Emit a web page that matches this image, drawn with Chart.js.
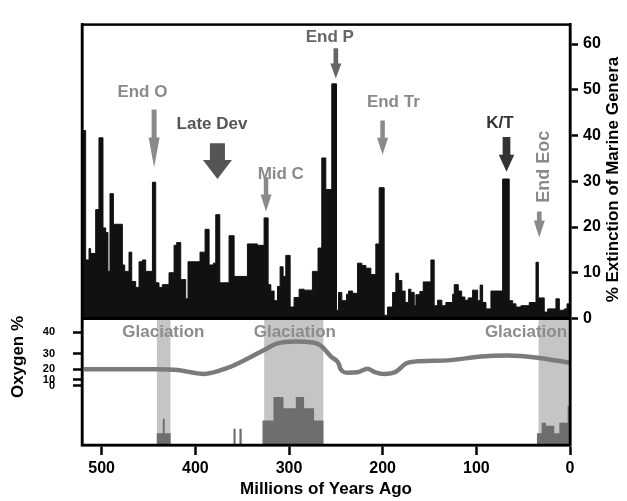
<!DOCTYPE html>
<html>
<head>
<meta charset="utf-8">
<title>Extinction and oxygen</title>
<script src="https://cdn.jsdelivr.net/npm/chart.js@4.4.1/dist/chart.umd.min.js"></script>
<style>
  html, body { margin: 0; padding: 0; background: #fff; }
  #chart { display: block; }
</style>
</head>
<body>
<canvas id="chart" width="627" height="501"></canvas>
<script>
// Extinción de géneros marinos (% por intervalo), edad de inicio de cada intervalo (Ma)
const extAge = [521, 517.1, 513.5, 511.8, 506.4, 502.9, 498.6, 495.7, 493.3, 491.1,
    487.5, 477.9, 475.4, 470.8, 467.9, 463.7, 460.1, 456.5, 453.0, 445.8,
    442.3, 438.8, 435.2, 428.1, 422.7, 419.9, 415.6, 410.3, 407.8, 395.0,
    389.6, 385.3, 380.7, 378.2, 373.9, 364.0, 358.6, 344.4, 333.7, 326.6,
    322.3, 319.4, 315.9, 312.3, 309.5, 306.3, 303.4, 298.8, 294.6, 289.2,
    283.9, 275.0, 269.0, 265.0, 260.7, 254.3, 249.3, 247.1, 243.6, 238.6,
    236.4, 232.1, 226.8, 222.2, 217.9, 212.6, 207.3, 203.7, 198.4, 194.8,
    189.4, 185.9, 183.0, 179.5, 176.0, 172.3, 169.9, 166.3, 164.5, 160.3,
    156.7, 148.5, 145.0, 141.3, 136.8, 132.5, 125.3, 123.6, 119.3, 115.7,
    112.2, 108.7, 104.0, 98.6, 95.9, 93.3, 89.7, 84.4, 71.9, 64.9,
    61.2, 57.7, 52.4, 43.5, 36.3, 33.8, 27.5, 23.8, 15.0, 11.4,
    6.1, 3.2, 0];
const extPct = [41.1, 12.8, 15.3, 14.2, 23.8, 39.5, 19.8, 18.8, 10.3, 27.3,
    20.6, 11.7, 10.3, 14.5, 8.1, 6.8, 12.4, 12.8, 10.3, 29.8,
    7.8, 6.8, 7.4, 10.0, 16.0, 16.6, 8.5, 4.3, 12.4, 14.5,
    19.5, 11.7, 12.1, 22.7, 7.8, 18.1, 9.2, 16.3, 16.0, 22.0,
    7.4, 6.0, 3.9, 7.0, 11.3, 9.2, 13.8, 2.5, 4.6, 6.4,
    6.2, 10.3, 15.4, 35.1, 28.2, 51.3, 1.8, 5.7, 3.9, 5.3,
    6.0, 5.5, 12.1, 11.6, 11.0, 9.6, 16.3, 28.6, 0.7, 2.5,
    5.7, 9.9, 8.3, 6.0, 3.5, 6.4, 5.7, 2.8, 5.2, 5.9,
    8.0, 12.8, 2.8, 4.0, 2.8, 3.5, 5.3, 7.4, 6.0, 4.7,
    4.0, 4.5, 6.2, 3.9, 7.3, 3.5, 2.1, 6.0, 30.5, 3.9,
    3.2, 2.5, 2.8, 3.5, 12.3, 4.5, 1.4, 2.1, 4.3, 1.8,
    2.1, 3.2, 3.2];

// Oxígeno atmosférico (%)
const oxyAge = [521, 440.5, 419.1, 390.7, 365.7, 344.3, 326.6, 312.3, 294.6, 273.2,
    266.0, 255.3, 246.5, 245.4, 237.5, 226.8, 216.1, 209.1, 198.4, 185.9,
    175.2, 166.3, 130.7, 95.1, 66.6, 34.5, 0];
const oxyPct = [19.8, 19.8, 19.1, 15.5, 20.8, 26.7, 31.7, 34.7, 35.6, 35.0,
    33.6, 28.1, 22.9, 20.4, 16.6, 17.0, 20.2, 17.5, 15.5, 17.5,
    23.6, 24.8, 25.6, 28.1, 28.7, 27.3, 24.0];

// Frecuencia de depósitos glaciares (unidades relativas)
const histAge = [521, 441.2, 434.8, 432.7, 426.3, 359.3, 357.0, 352.9, 350.5, 328.3,
    316.6, 305.9, 292.7, 283.9, 273.2, 263.2, 35.3, 30.3, 25.6, 16.8,
    11.4, 2.5, 0];
const histVal = [0, 2, 4.5, 2, 0, 2.8, 0, 2.8, 0, 4.2,
    8.2, 6.3, 8.2, 6.3, 4.2, 0, 2, 3.8, 3.3, 2,
    3.8, 6.7, 6.7];

// Periodos de glaciación (Ma)
const glacialStart = [441.2, 326.6, 33.8];
const glacialEnd = [426.3, 263.1, 0];

// Marcas de los ejes
const xTicks = [500, 400, 300, 200, 100, 0];
const extTicks = [0, 10, 20, 30, 40, 50, 60];
const oxyTicks = [40, 30, 20, 10, 0];

const FONT = '"Liberation Sans", Arial, sans-serif';

// El eje de oxígeno del original no es lineal: posición (px sobre la base) de cada marca
const oxyAxisVals = [0, 10, 20, 30, 40];
const oxyAxisPos = [61, 67, 78, 94, 116];

function oxyWarp(v) {
    const n = oxyAxisVals.length;
    let i = 0;
    while (i < n - 2 && v > oxyAxisVals[i + 1]) i++;
    const t = (v - oxyAxisVals[i]) / (oxyAxisVals[i + 1] - oxyAxisVals[i]);
    return oxyAxisPos[i] + t * (oxyAxisPos[i + 1] - oxyAxisPos[i]);
}

class OxygenScale extends Chart.LinearScale {
    static id = 'oxygen';
    static defaults = Chart.LinearScale.defaults;
    getPixelForValue(value) {
        return super.getPixelForValue(oxyWarp(value));
    }
}
Chart.register(OxygenScale);

function pts(ages, vals) {
    return ages.map((a, i) => ({ x: a, y: vals[i] }));
}

// Flechas y etiquetas de los eventos de extinción
const marks = [
    { text: 'End O', age: 444, textAge: 456.5, textY: 49.5, top: 45.7, tip: 33.0, head: 30, shaft: 5, headW: 11, color: '#8a8a8a' },
    { text: 'Late Dev', age: 376.4, textAge: 382.2, textY: 42.5, top: 38.3, tip: 30.5, head: 19, shaft: 15, headW: 29, color: '#555555' },
    { text: 'Mid C', age: 324.5, textAge: 308.8, textY: 31.6, top: 30.9, tip: 23.4, head: 17, shaft: 4.5, headW: 11, color: '#8a8a8a' },
    { text: 'End P', age: 250, textAge: 256.4, textY: 61.4, top: 59.1, tip: 52.5, head: 15, shaft: 4.7, headW: 11, color: '#666666' },
    { text: 'End Tr', age: 200.1, textAge: 188.6, textY: 47.2, top: 43.3, tip: 35.8, head: 17, shaft: 4.5, headW: 11, color: '#8a8a8a' },
    { text: 'K/T', age: 67.8, textAge: 74.8, textY: 42.7, top: 39.7, tip: 32.1, head: 17, shaft: 7.7, headW: 15.5, color: '#333333' },
    { text: 'End Eoc', age: 32.8, textAge: 27.8, textY: 33.2, top: 23.4, tip: 17.7, head: 17, shaft: 4.7, headW: 11, color: '#8a8a8a', vertical: true }
];
const glacialLabelAge = [434.1, 293.8, 47];

function drawArrow(ctx, x, yTop, yTip, m) {
    const yHead = yTip - m.head;
    ctx.beginPath();
    ctx.moveTo(x - m.shaft / 2, yTop);
    ctx.lineTo(x + m.shaft / 2, yTop);
    ctx.lineTo(x + m.shaft / 2, yHead);
    ctx.lineTo(x + m.headW / 2, yHead);
    ctx.lineTo(x, yTip);
    ctx.lineTo(x - m.headW / 2, yHead);
    ctx.lineTo(x - m.shaft / 2, yHead);
    ctx.closePath();
    ctx.fillStyle = m.color;
    ctx.fill();
}

const overlay = {
    id: 'overlay',
    afterDatasetsDraw(chart) {
        const ctx = chart.ctx;
        const area = chart.chartArea;
        const xs = chart.scales.x;
        const ys = chart.scales.yExt;
        ctx.save();

        // marco y separación entre paneles
        ctx.strokeStyle = '#000';
        ctx.lineWidth = 2.5;
        ctx.strokeRect(area.left, area.top, area.right - area.left, area.bottom - area.top);
        ctx.lineWidth = 3;
        ctx.beginPath();
        ctx.moveTo(area.left, ys.getPixelForValue(0));
        ctx.lineTo(area.right, ys.getPixelForValue(0));
        ctx.stroke();

        // eventos
        ctx.textAlign = 'center';
        ctx.textBaseline = 'middle';
        marks.forEach(m => {
            const x = xs.getPixelForValue(m.age);
            drawArrow(ctx, x, ys.getPixelForValue(m.top), ys.getPixelForValue(m.tip), m);
            const tx = xs.getPixelForValue(m.textAge);
            const ty = ys.getPixelForValue(m.textY);
            ctx.fillStyle = m.color;
            if (m.vertical) {
                ctx.font = 'bold 18px ' + FONT;
                ctx.save();
                ctx.translate(tx, ty);
                ctx.rotate(-Math.PI / 2);
                ctx.fillText(m.text, 0, 0);
                ctx.restore();
            } else {
                ctx.font = 'bold 17px ' + FONT;
                ctx.fillText(m.text, tx, ty);
            }
        });

        // glaciaciones
        ctx.font = 'bold 17px ' + FONT;
        ctx.fillStyle = '#8c8c8c';
        glacialLabelAge.forEach(a => {
            ctx.fillText('Glaciation', xs.getPixelForValue(a), ys.getPixelForValue(-3.1));
        });

        // títulos de los ejes verticales
        ctx.fillStyle = '#000';
        ctx.save();
        ctx.translate(613, (area.top + ys.getPixelForValue(0)) / 2 + 8);
        ctx.rotate(-Math.PI / 2);
        ctx.fillText('% Extinction of Marine Genera', 0, 0);
        ctx.restore();
        ctx.save();
        ctx.translate(18, 357);
        ctx.rotate(-Math.PI / 2);
        ctx.fillText('Oxygen %', 0, 0);
        ctx.restore();

        ctx.restore();
    }
};

const datasets = [
    {
        label: 'Extinction',
        data: pts(extAge, extPct),
        stepped: true,
        fill: 'origin',
        backgroundColor: '#111111',
        borderColor: '#111111',
        borderWidth: 1,
        pointRadius: 0,
        yAxisID: 'yExt',
        order: 1
    },
    {
        label: 'Oxygen',
        data: pts(oxyAge, oxyPct),
        borderColor: '#7b7b7b',
        borderWidth: 4.5,
        cubicInterpolationMode: 'monotone',
        fill: false,
        pointRadius: 0,
        yAxisID: 'yOx',
        order: 2
    },
    {
        label: 'Glacial deposits',
        data: pts(histAge, histVal),
        stepped: true,
        fill: 'origin',
        backgroundColor: '#6e6e6e',
        borderWidth: 0,
        pointRadius: 0,
        yAxisID: 'yHist',
        order: 3
    }
];
glacialStart.forEach((s, i) => {
    datasets.push({
        label: 'Glaciation',
        data: [{ x: s, y: 0 }, { x: glacialEnd[i], y: 0 }],
        fill: 'start',
        backgroundColor: '#c5c5c5',
        borderWidth: 0,
        pointRadius: 0,
        yAxisID: 'yExt',
        order: 4
    });
});

const boldFont = size => ({ family: FONT, size: size, weight: 'bold' });

new Chart(document.getElementById('chart'), {
    type: 'line',
    data: { datasets: datasets },
    options: {
        responsive: false,
        animation: false,
        events: [],
        layout: { padding: { top: 13, left: 0, right: 0, bottom: 0 } },
        plugins: { legend: { display: false }, tooltip: { enabled: false } },
        scales: {
            x: {
                type: 'linear',
                reverse: true,
                min: 0,
                max: 521,
                afterBuildTicks: s => { s.ticks = xTicks.map(v => ({ value: v })); },
                afterFit: s => { s.height = 56; },
                ticks: { font: boldFont(16), color: '#000', padding: 4, maxRotation: 0, autoSkip: false },
                grid: { drawOnChartArea: false, tickLength: 10, tickWidth: 2.5, tickColor: '#000' },
                border: { color: '#000', width: 2.5 },
                title: { display: true, text: 'Millions of Years Ago', font: boldFont(17), color: '#000', padding: { top: 0, bottom: 1 } }
            },
            yExt: {
                type: 'linear',
                position: 'right',
                min: -27.66,
                max: 64.26,
                afterBuildTicks: s => { s.ticks = extTicks.map(v => ({ value: v })); },
                afterFit: s => { s.width = 57; },
                ticks: { font: boldFont(16), color: '#000', padding: 5, autoSkip: false },
                grid: { drawOnChartArea: false, tickLength: 8, tickWidth: 2.5, tickColor: '#000' },
                border: { color: '#000', width: 2.5 }
            },
            yOx: {
                type: 'oxygen',
                position: 'left',
                min: 0,
                max: 432,
                afterBuildTicks: s => { s.ticks = oxyTicks.map(v => ({ value: v })); },
                afterFit: s => { s.width = 82; },
                ticks: { font: boldFont(11), color: '#000', padding: 18, autoSkip: false },
                grid: { drawOnChartArea: false, tickLength: 9, tickWidth: 2.5, tickColor: '#000' },
                border: { color: '#000', width: 2.5 }
            },
            yHist: {
                type: 'linear',
                display: false,
                min: 0,
                max: 72
            }
        }
    },
    plugins: [overlay]
});
</script>
</body>
</html>
